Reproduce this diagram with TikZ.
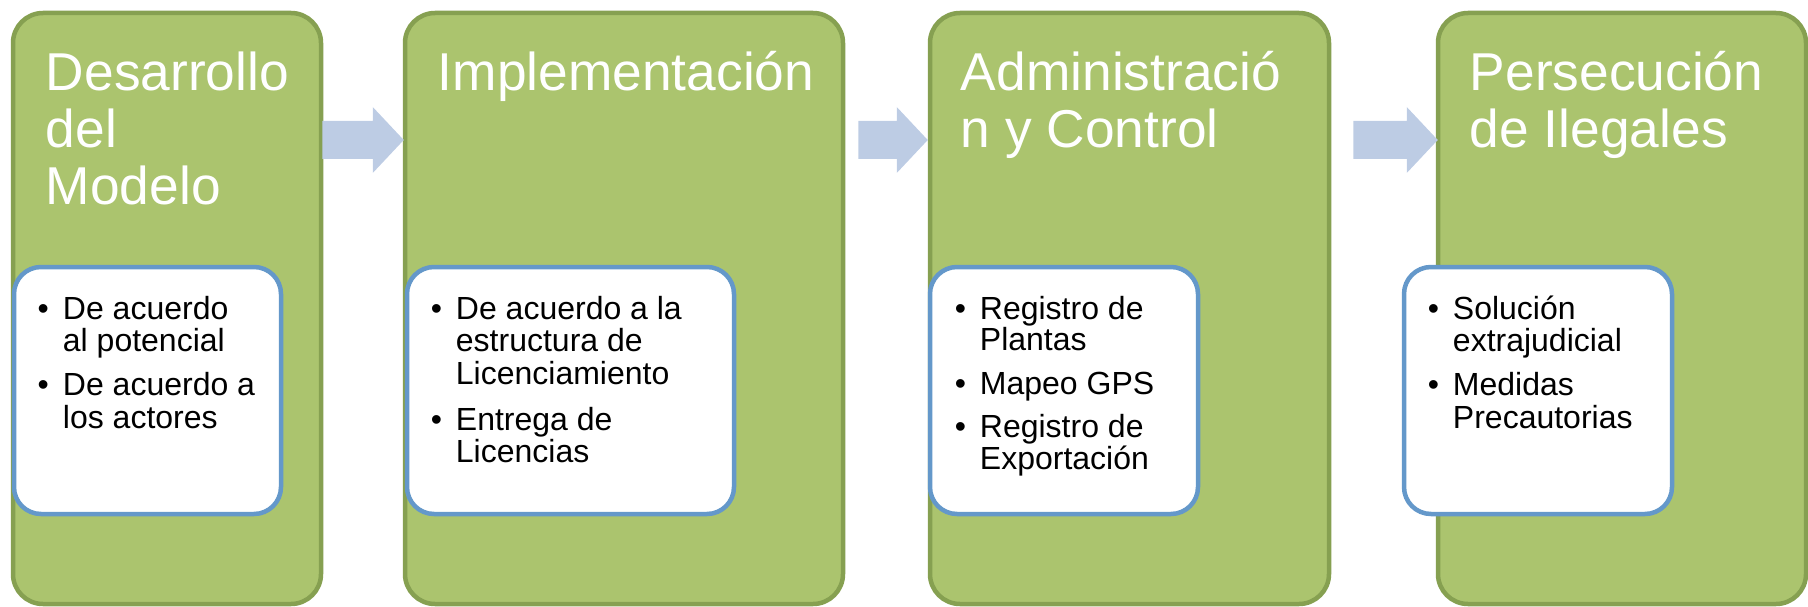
\documentclass[tikz,border=0pt]{standalone}
\usepackage{fontspec}
\setmainfont{Liberation Sans}
\usetikzlibrary{calc}
\definecolor{gfill}{HTML}{ABC46E}
\definecolor{gline}{HTML}{86A051}
\definecolor{wline}{HTML}{6498CA}
\definecolor{afill}{HTML}{BDCCE4}
\newcommand\ttlbox[1]{\vtop{\hsize=420pt\parindent=0pt\baselineskip=57pt\lineskiplimit=-100pt\raggedright\leavevmode #1\par}}
\newcommand\blist[3]{\vtop{\hsize=320pt\parindent=0pt\baselineskip=#1\lineskiplimit=-100pt\parskip=#2\raggedright #3}}
\newcommand\bitem[1]{\leavevmode\llap{\textbullet\hspace{14pt}}#1\par}
\tikzset{
  stage/.style={rectangle, draw=gline, fill=gfill, line width=4.5pt, rounded corners=30pt,
    minimum width=#1, minimum height=591pt, inner sep=0pt},
  detail/.style={rectangle, draw=wline, fill=white, line width=4.5pt, rounded corners=27pt,
    minimum width=#1, minimum height=247pt, inner sep=0pt},
  stitle/.style={anchor=base west, inner sep=0pt, text=white, font=\fontsize{53.3}{57}\selectfont},
  slist/.style={anchor=base west, inner sep=0pt, text=black, font=\fontsize{32}{32}\selectfont},
  blockarrow/.style={fill=afill, to path={let \p1=(\tikztostart), \p2=(\tikztotarget) in
    (\x1,\y1+19pt) -- (\x2-31pt,\y1+19pt) -- (\x2-31pt,\y1+33pt) -- (\x2,\y1)
    -- (\x2-31pt,\y1-33pt) -- (\x2-31pt,\y1-19pt) -- (\x1,\y1-19pt) -- cycle}}
}
\begin{document}
\begin{tikzpicture}[x=1pt,y=-1pt]
\useasboundingbox (0,0) rectangle (1808,607);
% stages
\node[stage=308pt] (g1) at (167,308.5) {};
\node[stage=438pt] (g2) at (624,308.5) {};
\node[stage=399pt] (g3) at (1129.5,308.5) {};
\node[stage=368pt] (g4) at (1622,308.5) {};
% arrows
\coordinate (lvl) at (0,140);
\coordinate (a1s) at ($(g1.east |- lvl)+(-1,0)$);
\coordinate (a1e) at ($(g2.west |- lvl)+(1,0)$);
\coordinate (a2s) at ($(g2.east |- lvl)+(13,0)$);
\coordinate (a2e) at ($(g3.west |- lvl)+(0,0)$);
\coordinate (a3s) at ($(g3.east |- lvl)+(22,0)$);
\coordinate (a3e) at ($(g4.west |- lvl)+(2,0)$);
\path[blockarrow] (a1s) to (a1e);
\path[blockarrow] (a2s) to (a2e);
\path[blockarrow] (a3s) to (a3e);
% detail boxes
\node[detail=267pt] (w1) at (147.5,390.5) {};
\node[detail=327pt] (w2) at (570.5,390.5) {};
\node[detail=268pt] (w3) at (1064,390.5) {};
\node[detail=268pt] (w4) at (1538,390.5) {};
% titles
\node[stitle] (t1) at ($(g1.north west)+(35,80)$) {\ttlbox{Desarrollo\\del\\Modelo}};
\node[stitle] (t2) at ($(g2.north west)+(35,80)$) {\ttlbox{Implementación}};
\node[stitle] (t3) at ($(g3.north west)+(33,80)$) {\ttlbox{Administració\\n y Control}};
\node[stitle] (t4) at ($(g4.north west)+(34,80)$) {\ttlbox{Persecución\\de Ilegales}};
% lists
\node[slist] (l1) at ($(w1.north west)+(51,54.5)$) {\blist{32.5pt}{11.5pt}{\bitem{De acuerdo\\al potencial}\bitem{De acuerdo a\\los actores}}};
\node[slist] (l2) at ($(w2.north west)+(51,54.5)$) {\blist{32.5pt}{13.5pt}{\bitem{De acuerdo a la\\estructura de\\Licenciamiento}\bitem{Entrega de\\Licencias}}};
\node[slist] (l3) at ($(w3.north west)+(52,54.5)$) {\blist{31.5pt}{12pt}{\bitem{Registro de\\Plantas}\bitem{Mapeo GPS}\bitem{Registro de\\Exportación}}};
\node[slist] (l4) at ($(w4.north west)+(51,54.5)$) {\blist{32.5pt}{11.5pt}{\bitem{Solución\\extrajudicial}\bitem{Medidas\\Precautorias}}};
\end{tikzpicture}
\end{document}
